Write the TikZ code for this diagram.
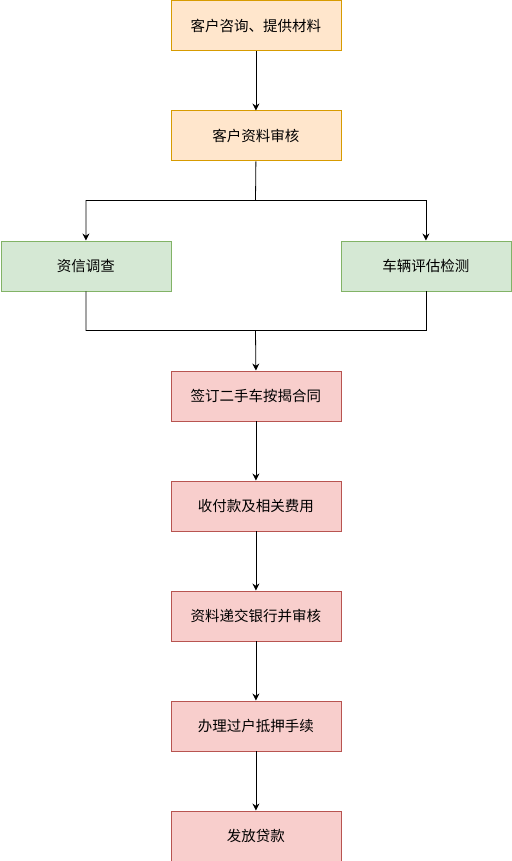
\documentclass[tikz,border=0pt]{standalone}
\usepackage{fontspec}
\newfontfamily\cjk{Noto Sans CJK SC}
\usetikzlibrary{arrows.meta}
\definecolor{ofill}{HTML}{FFE6CC}
\definecolor{oline}{HTML}{D79B00}
\definecolor{gfill}{HTML}{D5E8D4}
\definecolor{gline}{HTML}{82B366}
\definecolor{rfill}{HTML}{F8CECC}
\definecolor{rline}{HTML}{B85450}
\tikzset{
  box/.style={draw, line width=0.8pt, minimum width=170pt, minimum height=50pt, inner sep=0pt, font=\cjk\fontsize{14.5}{16}\selectfont, anchor=north west},
  obox/.style={box, fill=ofill, draw=oline},
  gbox/.style={box, fill=gfill, draw=gline},
  rbox/.style={box, fill=rfill, draw=rline},
  conn/.style={line width=0.8pt, draw=black},
  arr/.style={conn, -{Stealth[length=7pt,width=7pt]}}
}
\begin{document}
\begin{tikzpicture}[x=1pt,y=-1pt]
\useasboundingbox (0,0) rectangle (511,861);
\node[obox] (n1) at (170.5,0.5) {客户咨询、提供材料};
\node[obox] (n2) at (170.5,110.5) {客户资料审核};
\node[gbox] (g1) at (0.5,240.5) {资信调查};
\node[gbox] (g2) at (340.5,240.5) {车辆评估检测};
\node[rbox] (r1) at (170.5,370.5) {签订二手车按揭合同};
\node[rbox] (r2) at (170.5,480.5) {收付款及相关费用};
\node[rbox] (r3) at (170.5,590.5) {资料递交银行并审核};
\node[rbox] (r4) at (170.5,700.5) {办理过户抵押手续};
\node[rbox] (r5) at (170.5,810.5) {发放贷款};
\coordinate (s) at (255.5,200.5);
\coordinate (j) at (255.5,330.5);
\draw[arr] (n1) -- (n2);
\draw[arr] (n2.south) -- (s) -| (g1.north);
\draw[arr] (s) -| (g2.north);
\draw[conn] (g2.south) |- (j);
\draw[arr] (g1.south) |- (j) -- (r1.north);
\draw[arr] (r1) -- (r2);
\draw[arr] (r2) -- (r3);
\draw[arr] (r3) -- (r4);
\draw[arr] (r4) -- (r5);
\end{tikzpicture}
\end{document}
